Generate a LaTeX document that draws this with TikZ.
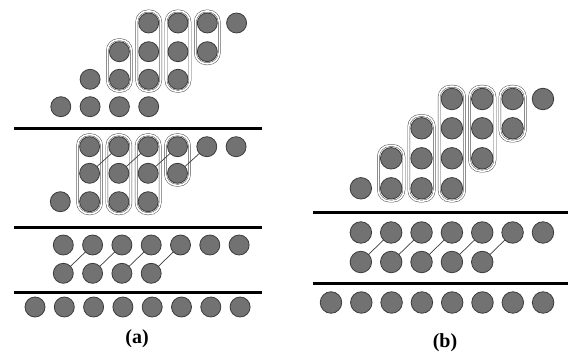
\documentclass[tikz,border=0pt]{standalone}
\usepackage{fontspec}
\setmainfont{Liberation Serif}
\usetikzlibrary{fit}
\definecolor{ballfill}{RGB}{114,114,114}
\definecolor{balledge}{RGB}{60,60,60}
\definecolor{capedge}{RGB}{80,80,80}
\tikzset{
  ball/.style={circle, draw=balledge, fill=ballfill, line width=0.8pt, minimum size=20pt, inner sep=0pt, outer sep=0pt},
  ballb/.style={ball, minimum size=21.5pt},
  caps/.style={draw=capedge, double=white, double distance=1.6pt, line width=0.5pt, rounded corners=11pt, inner sep=2pt},
  link/.style={draw=balledge, line width=0.7pt},
  bar/.style={line width=3pt, black},
  lbl/.style={font=\fontsize{20}{20}\selectfont\bfseries}
}
\begin{document}
\begin{tikzpicture}[x=1pt,y=-1pt]
\useasboundingbox (0,0) rectangle (568,356);
% ===== Panel (a) =====
\coordinate (aL1s) at (14,128.5); \coordinate (aL1e) at (262,128.5);
\coordinate (aL2s) at (14,227);   \coordinate (aL2e) at (262,227);
\coordinate (aL3s) at (14,292);   \coordinate (aL3e) at (262,292);
\draw[bar] (aL1s) -- (aL1e);
\draw[bar] (aL2s) -- (aL2e);
\draw[bar] (aL3s) -- (aL3e);
% top section
\foreach \k in {4,...,7} \node[ball] (aT1k\k) at ({31.5+29.3*\k},23) {};
\foreach \k in {3,...,6} \node[ball] (aT2k\k) at ({31.5+29.3*\k},51.7) {};
\foreach \k in {2,...,5} \node[ball] (aT3k\k) at ({31.5+29.3*\k},79.3) {};
\foreach \k in {1,...,4} \node[ball] (aT4k\k) at ({31.5+29.3*\k},106.7) {};
\node[caps, fit=(aT2k3) (aT3k3)] (aC1) {};
\node[caps, fit=(aT1k4) (aT3k4)] (aC2) {};
\node[caps, fit=(aT1k5) (aT3k5)] (aC3) {};
\node[caps, fit=(aT1k6) (aT2k6)] (aC4) {};
% middle section
\foreach \k in {2,...,7} \node[ball] (aM1k\k) at ({31+29.3*\k},146.7) {};
\foreach \k in {2,...,5} \node[ball] (aM2k\k) at ({31+29.3*\k},173.3) {};
\foreach \k in {1,...,4} \node[ball] (aM3k\k) at ({31+29.3*\k},201.7) {};
\node[caps, fit=(aM1k2) (aM3k2)] (aC5) {};
\node[caps, fit=(aM1k3) (aM3k3)] (aC6) {};
\node[caps, fit=(aM1k4) (aM3k4)] (aC7) {};
\node[caps, fit=(aM1k5) (aM2k5)] (aC8) {};
\draw[link] (aM2k2) -- (aM1k3);
\draw[link] (aM2k3) -- (aM1k4);
\draw[link] (aM2k4) -- (aM1k5);
\draw[link] (aM2k5) -- (aM1k6);
% bottom section
\foreach \k in {1,...,7} \node[ball] (aB1k\k) at ({34+29.3*\k},245) {};
\foreach \k in {1,...,4} \node[ball] (aB2k\k) at ({34+29.3*\k},273.3) {};
\draw[link] (aB2k1) -- (aB1k2);
\draw[link] (aB2k2) -- (aB1k3);
\draw[link] (aB2k3) -- (aB1k4);
\draw[link] (aB2k4) -- (aB1k5);
% floor
\foreach \k in {0,...,7} \node[ball] (aFk\k) at ({35+29.3*\k},307) {};
\node[lbl] (la) at (137,339) {(a)};
% ===== Panel (b) =====
\coordinate (bL1s) at (313,212); \coordinate (bL1e) at (568,212);
\coordinate (bL2s) at (313,283); \coordinate (bL2e) at (568,283);
\draw[bar] (bL1s) -- (bL1e);
\draw[bar] (bL2s) -- (bL2e);
\foreach \k in {4,...,7} \node[ballb] (bT1k\k) at ({330.5+30.35*\k},99) {};
\foreach \k in {3,...,6} \node[ballb] (bT2k\k) at ({330.5+30.35*\k},128.3) {};
\foreach \k in {2,...,5} \node[ballb] (bT3k\k) at ({330.5+30.35*\k},158.3) {};
\foreach \k in {1,...,4} \node[ballb] (bT4k\k) at ({330.5+30.35*\k},188.3) {};
\node[caps, fit=(bT3k2) (bT4k2)] (bC1) {};
\node[caps, fit=(bT2k3) (bT4k3)] (bC2) {};
\node[caps, fit=(bT1k4) (bT4k4)] (bC3) {};
\node[caps, fit=(bT1k5) (bT3k5)] (bC4) {};
\node[caps, fit=(bT1k6) (bT2k6)] (bC5) {};
\foreach \k in {1,...,7} \node[ballb] (bM1k\k) at ({330.5+30.35*\k},232.5) {};
\foreach \k in {1,...,5} \node[ballb] (bM2k\k) at ({330.5+30.35*\k},262) {};
\draw[link] (bM2k1) -- (bM1k2);
\draw[link] (bM2k2) -- (bM1k3);
\draw[link] (bM2k3) -- (bM1k4);
\draw[link] (bM2k4) -- (bM1k5);
\draw[link] (bM2k5) -- (bM1k6);
\foreach \k in {0,...,7} \node[ballb] (bFk\k) at ({331+30.3*\k},302.5) {};
\node[lbl] (lb) at (445,343) {(b)};
\end{tikzpicture}
\end{document}
